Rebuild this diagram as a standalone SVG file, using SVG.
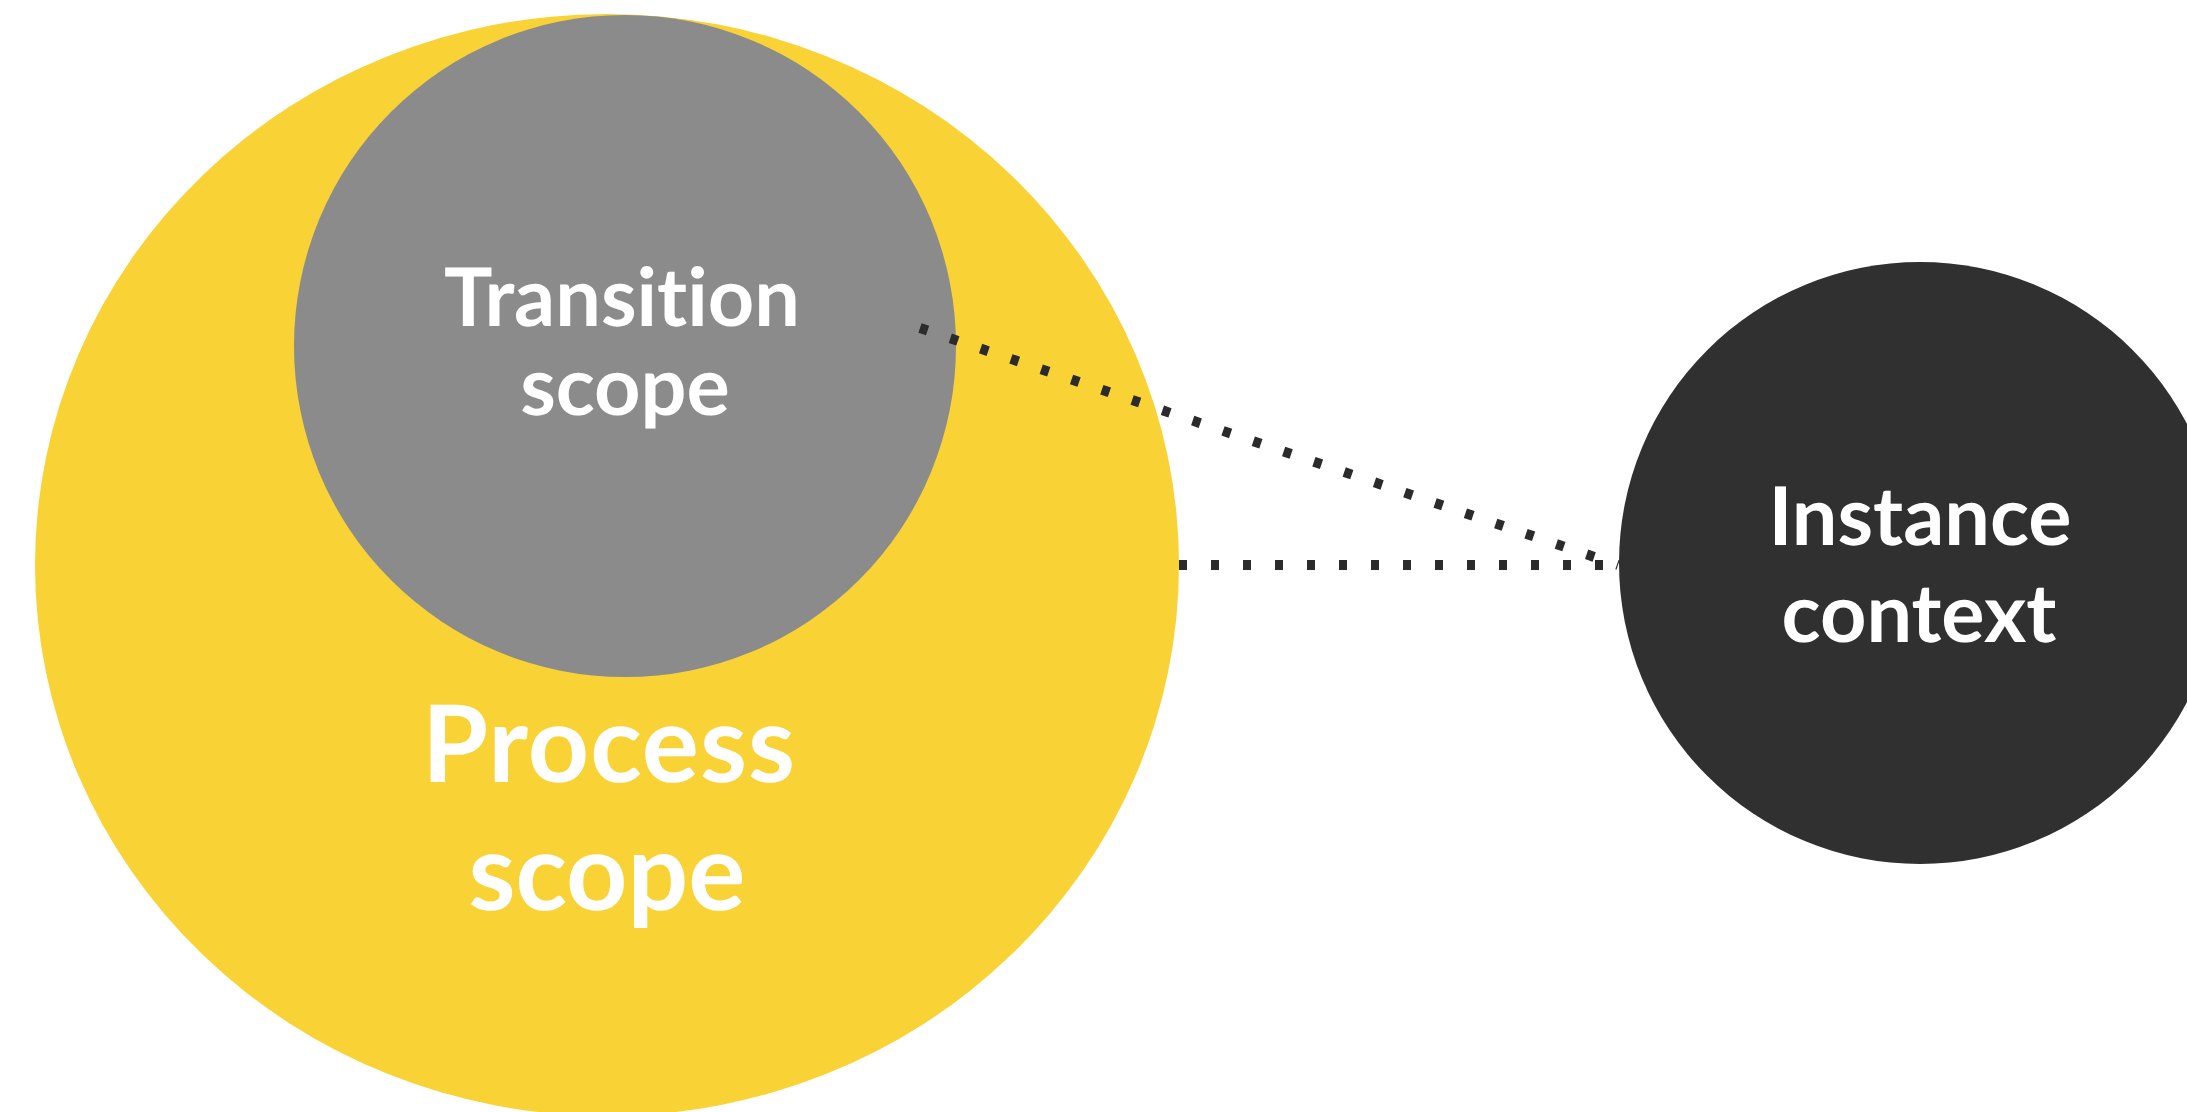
<svg xmlns="http://www.w3.org/2000/svg" width="2187" height="1112" viewBox="0 0 2187 1112">
  <style>
    .lbl { font-family: Lato, "Open Sans", "Liberation Sans", sans-serif; fill: #ffffff; text-anchor: middle; font-weight: bold; text-rendering: geometricPrecision; font-variant-ligatures: none; font-feature-settings: "liga" 0, "dlig" 0, "clig" 0; }
    .conn { fill: none; stroke: #2b2b2b; stroke-width: 10; stroke-dasharray: 8 24; }
  </style>
  <rect x="0" y="0" width="2187" height="1112" fill="#ffffff"/>
  <g id="process-scope">
    <ellipse cx="607" cy="565" rx="572" ry="551" fill="#f9d236"/>
    <text class="lbl" x="609" y="782" font-size="107" letter-spacing="1">Process</text>
    <text class="lbl" x="607" y="910" font-size="107">scope</text>
  </g>
  <g id="transition-scope">
    <circle cx="625" cy="346" r="331" fill="#8b8b8b"/>
    <text class="lbl" x="622" y="326" font-size="81">Transition</text>
    <text class="lbl" x="625" y="415" font-size="81">scope</text>
  </g>
  <g id="connectors">
    <line class="conn" x1="920" y1="328" x2="1618" y2="565"/>
    <line class="conn" x1="1179" y1="565" x2="1618" y2="565"/>
  </g>
  <g id="instance-context">
    <circle cx="1920" cy="563" r="301" fill="#303030"/>
    <text class="lbl" x="1920" y="545" font-size="81">Instance</text>
    <text class="lbl" x="1919" y="642" font-size="81">context</text>
  </g>
</svg>
